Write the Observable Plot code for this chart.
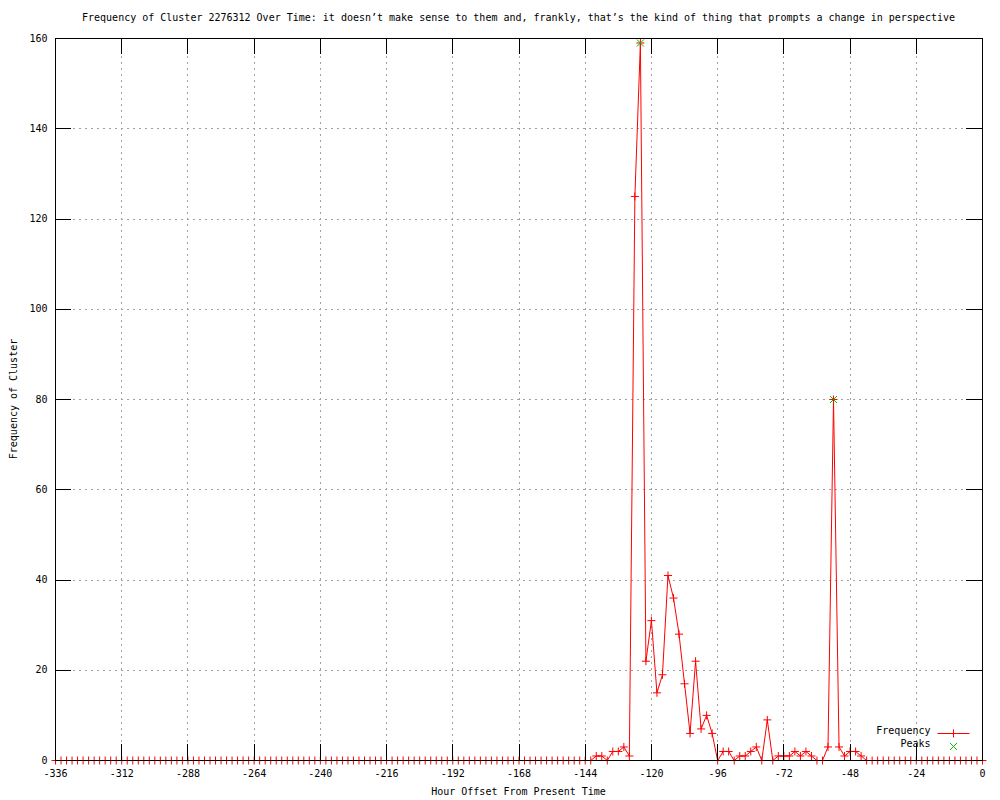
<!DOCTYPE html>
<html><head><meta charset="utf-8">
<script src="https://cdn.jsdelivr.net/npm/d3@7"></script>
<script src="https://cdn.jsdelivr.net/npm/@observablehq/plot@0.6"></script>
<style>
body{margin:0;background:#fff;}
#wrap{position:relative;width:1000px;height:800px;font-family:"DejaVu Sans Mono",monospace;font-size:10px;color:#000;overflow:hidden;}
.abs{position:absolute;white-space:nowrap;line-height:1;}
</style></head><body>
<div id="wrap"></div>
<script>
const titleText = "Frequency of Cluster 2276312 Over Time: it doesn’t make sense to them and, frankly, that’s the kind of thing that prompts a change in perspective";
const xLabel = "Hour Offset From Present Time";
const yLabel = "Frequency of Cluster";
const seriesNames = ["Frequency", "Peaks"];

const hours = [
  -336,-334,-332,-330,-328,-326,-324,-322,-320,-318,-316,-314,
  -312,-310,-308,-306,-304,-302,-300,-298,-296,-294,-292,-290,
  -288,-286,-284,-282,-280,-278,-276,-274,-272,-270,-268,-266,
  -264,-262,-260,-258,-256,-254,-252,-250,-248,-246,-244,-242,
  -240,-238,-236,-234,-232,-230,-228,-226,-224,-222,-220,-218,
  -216,-214,-212,-210,-208,-206,-204,-202,-200,-198,-196,-194,
  -192,-190,-188,-186,-184,-182,-180,-178,-176,-174,-172,-170,
  -168,-166,-164,-162,-160,-158,-156,-154,-152,-150,-148,-146,
  -144,-142,-140,-138,-136,-134,-132,-130,-128,-126,-124,-122,
  -120,-118,-116,-114,-112,-110,-108,-106,-104,-102,-100,-98,
  -96,-94,-92,-90,-88,-86,-84,-82,-80,-78,-76,-74,
  -72,-70,-68,-66,-64,-62,-60,-58,-56,-54,-52,-50,
  -48,-46,-44,-42,-40,-38,-36,-34,-32,-30,-28,-26,
  -24,-22,-20,-18,-16,-14,-12,-10,-8,-6,-4,-2,
  0
];
const frequency = [
  0,0,0,0,0,0,0,0,0,0,0,0,
  0,0,0,0,0,0,0,0,0,0,0,0,
  0,0,0,0,0,0,0,0,0,0,0,0,
  0,0,0,0,0,0,0,0,0,0,0,0,
  0,0,0,0,0,0,0,0,0,0,0,0,
  0,0,0,0,0,0,0,0,0,0,0,0,
  0,0,0,0,0,0,0,0,0,0,0,0,
  0,0,0,0,0,0,0,0,0,0,0,0,
  0,0,1,1,0,2,2,3,1,125,159,22,
  31,15,19,41,36,28,17,6,22,7,10,6,
  0,2,2,0,1,1,2,3,0,9,0,1,
  1,1,2,1,2,1,0,0,3,80,3,1,
  2,2,1,0,0,0,0,0,0,0,0,0,
  0,0,0,0,0,0,0,0,0,0,0,0,
  0
];
const peakHours = [-124, -54];
const peakValues = [159, 80];

const xTicks = [-336,-312,-288,-264,-240,-216,-192,-168,-144,-120,-96,-72,-48,-24,0];
const yTicks = [0,20,40,60,80,100,120,140,160];

const data = hours.map((h,i)=>({h, v: frequency[i]}));
const peaks = peakHours.map((h,i)=>({h, v: peakValues[i]}));

const W = 1000, H = 800, ML = 55, MR = 18, MT = 38, MB = 40;
const PW = W-ML-MR, PH = H-MT-MB;
const TICK = 16;
const RED = "#ff0000", GREEN = "#00c000";

const plusSym = {draw(ctx){const r=4; ctx.moveTo(-r,0);ctx.lineTo(r,0);ctx.moveTo(0,-r);ctx.lineTo(0,r);}};
const timesSym = {draw(ctx){const r=3.5; ctx.moveTo(-r,-r);ctx.lineTo(r,r);ctx.moveTo(-r,r);ctx.lineTo(r,-r);}};
// legend sample: line segment with a plus in the middle
const legendLineSym = {draw(ctx){const r=4; ctx.moveTo(-16,0);ctx.lineTo(16,0);ctx.moveTo(0,-r);ctx.lineTo(0,r);}};

const chart = Plot.plot({
  width: W, height: H,
  marginLeft: ML, marginRight: MR, marginTop: MT, marginBottom: MB,
  x: {domain: [-336, 0]},
  y: {domain: [0, 160]},
  style: {fontFamily: "DejaVu Sans Mono", fontSize: "10px", background: "white", overflow: "visible"},
  marks: [
    Plot.gridX({ticks: xTicks, stroke: "#a0a0a0", strokeOpacity: 1, strokeDasharray: "2,4", shapeRendering: "crispEdges"}),
    Plot.gridY({ticks: yTicks, stroke: "#a0a0a0", strokeOpacity: 1, strokeDasharray: "2,4", shapeRendering: "crispEdges"}),
    Plot.line(data, {x: "h", y: "v", stroke: RED, strokeWidth: 1}),
    Plot.dot(data, {x: "h", y: "v", symbol: plusSym, stroke: RED, fill: "none", strokeWidth: 1}),
    Plot.dot(peaks, {x: "h", y: "v", symbol: timesSym, stroke: GREEN, fill: "none", strokeWidth: 1}),
    Plot.tickX(xTicks, {x: d=>d, stroke: "black", insetTop: PH-TICK, shapeRendering: "crispEdges"}),
    Plot.tickX(xTicks, {x: d=>d, stroke: "black", insetBottom: PH-TICK, shapeRendering: "crispEdges"}),
    Plot.tickY(yTicks, {y: d=>d, stroke: "black", insetRight: PW-TICK, shapeRendering: "crispEdges"}),
    Plot.tickY(yTicks, {y: d=>d, stroke: "black", insetLeft: PW-TICK, shapeRendering: "crispEdges"}),
    Plot.frame({stroke: "black", shapeRendering: "crispEdges"}),
    Plot.axisX({ticks: xTicks, tickSize: 0, tickPadding: 9, tickFormat: d=>String(d), label: null}),
    Plot.axisY({ticks: yTicks, tickSize: 0, tickPadding: 8, tickFormat: d=>String(d), label: null}),
    // legend (anchored to the bottom-right of the frame)
    Plot.text([seriesNames[0]], {text: d=>d, frameAnchor: "bottom-right", textAnchor: "end", dx: -52, dy: -27, fill: "black"}),
    Plot.text([seriesNames[1]], {text: d=>d, frameAnchor: "bottom-right", textAnchor: "end", dx: -52, dy: -14, fill: "black"}),
    Plot.dot([seriesNames[0]], {frameAnchor: "bottom-right", dx: -29, dy: -27, symbol: legendLineSym, stroke: RED, fill: "none", strokeWidth: 1}),
    Plot.dot([seriesNames[1]], {frameAnchor: "bottom-right", dx: -29, dy: -14, symbol: timesSym, stroke: GREEN, fill: "none", strokeWidth: 1})
  ]
});

const wrap = document.getElementById("wrap");
wrap.appendChild(chart);
chart.style.position = "absolute"; chart.style.left = "0"; chart.style.top = "0";

function addText(txt, css){
  const d = document.createElement("div");
  d.className = "abs"; d.textContent = txt;
  Object.assign(d.style, css);
  wrap.appendChild(d);
  return d;
}
addText(titleText, {left: (ML+PW/2)+"px", top: "18px", transform: "translate(-50%,-50%)"});
addText(xLabel, {left: (ML+PW/2)+"px", top: "792px", transform: "translate(-50%,-50%)"});
addText(yLabel, {left: "14px", top: (MT+PH/2)+"px", transform: "translate(-50%,-50%) rotate(-90deg)"});
</script>
</body></html>
